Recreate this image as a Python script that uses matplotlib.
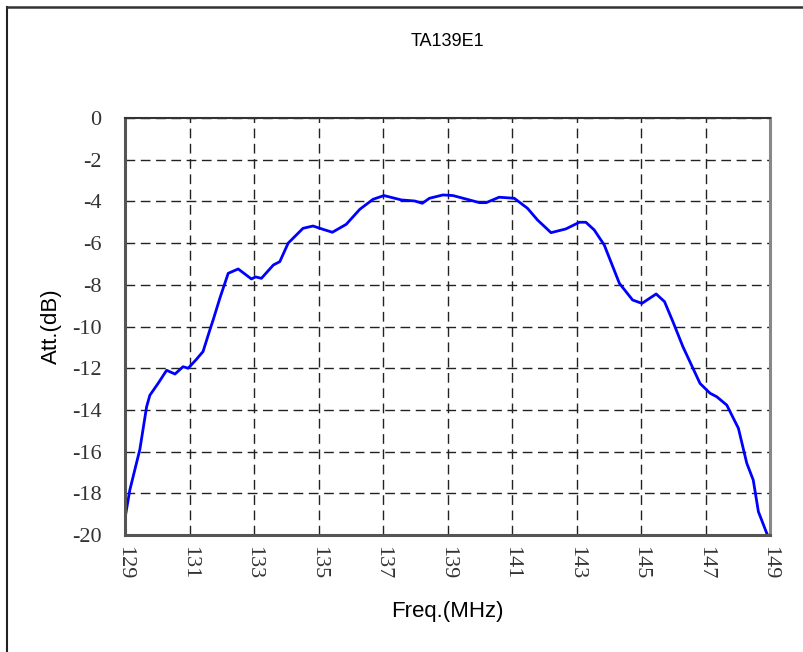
import numpy as np
import matplotlib.pyplot as plt
from matplotlib.lines import Line2D

# frequency (MHz) and attenuation (dB)
freq = [129.0, 129.15, 129.46, 129.67, 129.77, 130.03, 130.29, 130.55, 130.8,
        130.96, 131.2, 131.42, 131.63, 131.73, 131.95, 132.2, 132.51, 132.92,
        133.05, 133.23, 133.6, 133.8, 134.06, 134.21, 134.52, 134.83, 135.14,
        135.43, 135.86, 136.28, 136.69, 137.03, 137.57, 137.98, 138.22, 138.44,
        138.86, 139.17, 139.68, 139.99, 140.2, 140.6, 141.07, 141.48, 141.79,
        142.21, 142.67, 143.09, 143.29, 143.55, 143.86, 144.33, 144.74, 145.03,
        145.47, 145.73, 145.99, 146.3, 146.83, 147.14, 147.35, 147.66, 148.02,
        148.28, 148.48, 148.64, 148.9, 149.0]
att = [-19.2, -17.84, -15.9, -13.85, -13.3, -12.72, -12.1, -12.28, -11.93,
       -12.0, -11.6, -11.2, -10.17, -9.7, -8.6, -7.45, -7.24, -7.72,
       -7.62, -7.69, -7.05, -6.89, -6.0, -5.77, -5.29, -5.18, -5.34,
       -5.48, -5.1, -4.38, -3.9, -3.72, -3.93, -3.98, -4.09, -3.85,
       -3.69, -3.72, -3.93, -4.06, -4.06, -3.8, -3.85, -4.33, -4.89,
       -5.5, -5.32, -5.0, -5.0, -5.37, -6.09, -7.93, -8.73, -8.89,
       -8.44, -8.81, -9.77, -10.97, -12.73, -13.2, -13.37, -13.77, -14.88,
       -16.56, -17.36, -18.88, -19.92, -20.2]

xticks = np.arange(129, 150, 2)
yticks = np.arange(-20, 1, 2)

fig = plt.figure(figsize=(8.04, 6.52), dpi=100)
ax = fig.add_axes([125 / 804, 1 - 535 / 652, 645 / 804, 417 / 652])

ax.plot(freq, att, color='#0000ff', lw=2.0, clip_on=True)
ax.set_xlim(129, 149)
ax.set_ylim(-20, 0)
ax.set_xticks(xticks)
ax.set_yticks(yticks)
ax.set_xticklabels([str(t) for t in xticks], rotation=270,
                   family='Liberation Serif', fontsize=16, color='#333333')
ax.set_yticklabels([str(t) for t in yticks],
                   family='Liberation Serif', fontsize=16, color='#333333')
ax.tick_params(axis='y', length=0, pad=17)
ax.tick_params(axis='x', length=0, pad=8)
ax.grid(True, color='#222222', ls=(0, (7, 4)), lw=1.0)

for side in ['left', 'bottom']:
    ax.spines[side].set_color('#555555')
    ax.spines[side].set_linewidth(2.2)
ax.spines['top'].set_color('#333333')
ax.spines['top'].set_linewidth(1.5)
ax.spines['right'].set_color('#888888')
ax.spines['right'].set_linewidth(2.2)

fig.text(447.5 / 804, 1 - 42 / 652, 'TA139E1', ha='center', va='center',
         family='Liberation Sans', fontsize=13)
fig.text(51 / 804, 1 - 326 / 652, 'Att.(dB)', ha='center', va='center',
         rotation=90, family='Liberation Sans', fontsize=16)
fig.text(447.5 / 804, 1 - 612 / 652, 'Freq.(MHz)', ha='center', va='center',
         family='Liberation Sans', fontsize=16)

# outer frame (only left and top edges are visible)
fig.add_artist(Line2D([7 / 804, 7 / 804], [0, 1 - 7 / 652], color='#222222', lw=1.5))
fig.add_artist(Line2D([7 / 804, 1], [1 - 7 / 652, 1 - 7 / 652], color='#333333', lw=1.8))

fig.savefig('out.png', dpi=100)
